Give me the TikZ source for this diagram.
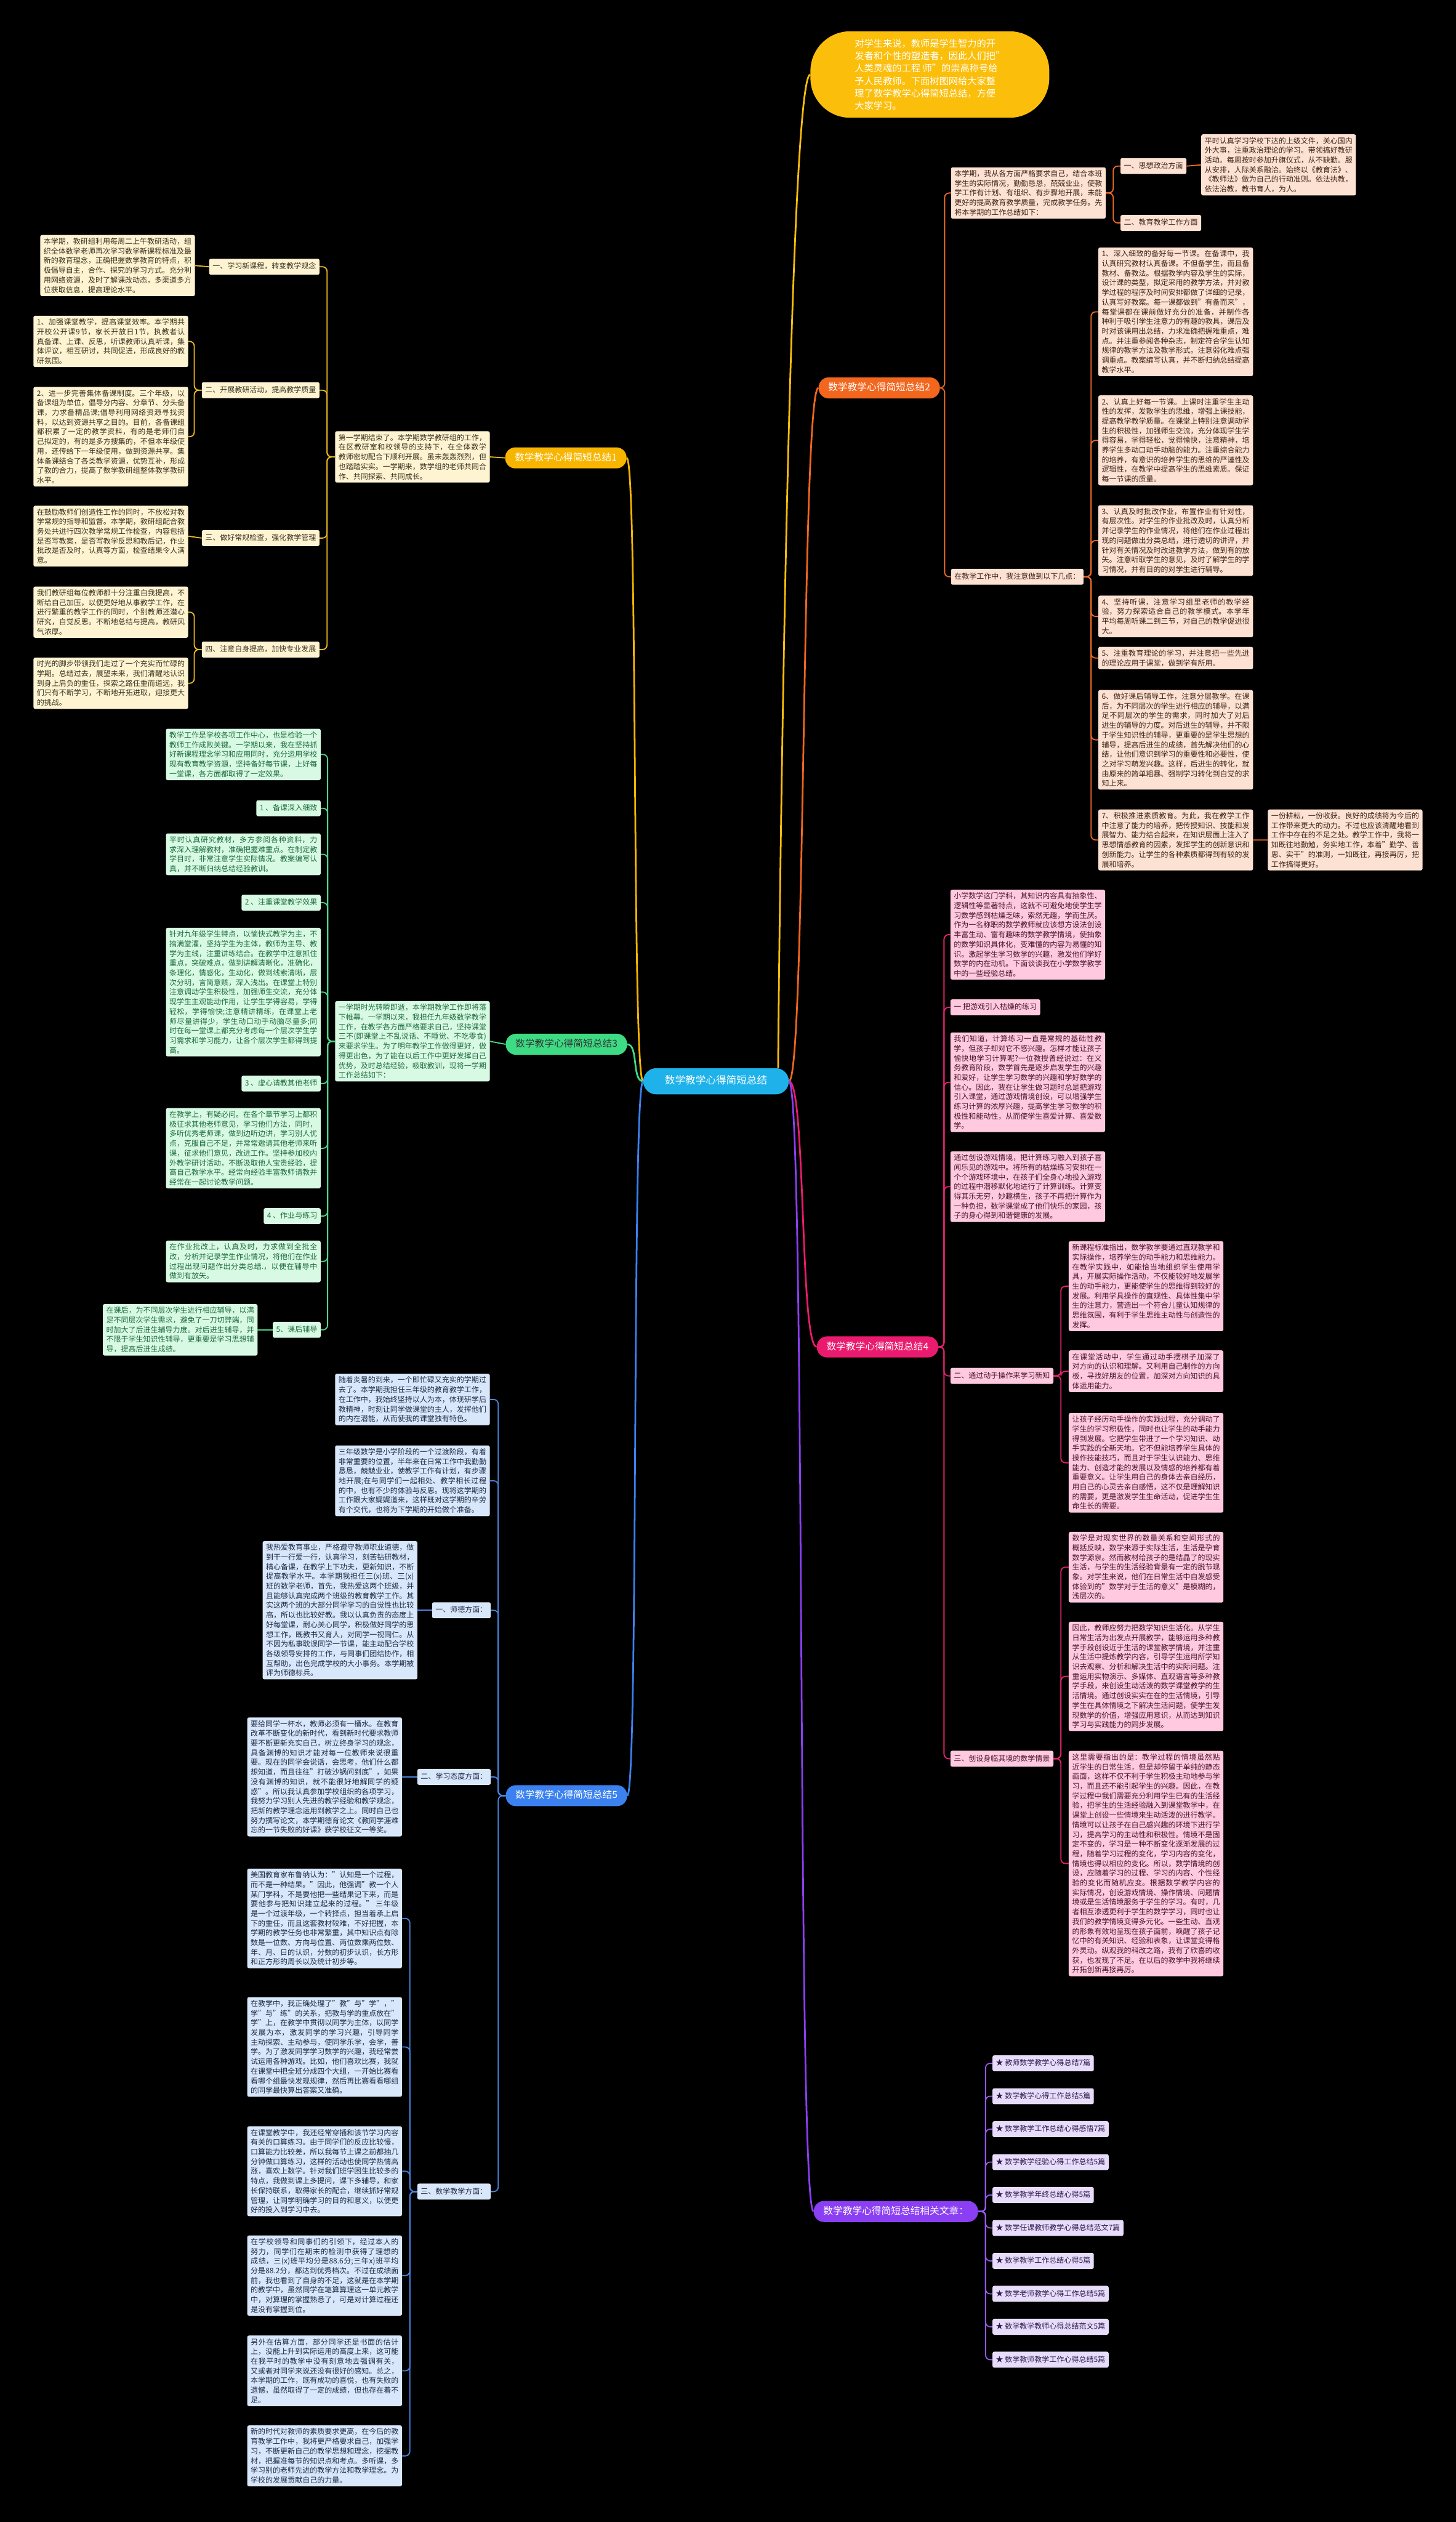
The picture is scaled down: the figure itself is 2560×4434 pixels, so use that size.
\documentclass[tikz,border=0pt]{standalone}
\usepackage{fontspec}
\setmainfont{Noto Sans CJK SC}
\XeTeXlinebreaklocale "zh"
\XeTeXlinebreakskip=0pt plus 1pt
\usetikzlibrary{positioning}

\definecolor{bgcol}{HTML}{000000}
\definecolor{hubcol}{HTML}{1FB2EA}
\definecolor{tipcol}{HTML}{FBBE0B}
\definecolor{yelcol}{HTML}{F8B500}
\definecolor{ycard}{HTML}{FFF4D2}
\definecolor{yline}{HTML}{E9B825}
\definecolor{ytext}{HTML}{3A3220}
\definecolor{orcol}{HTML}{F2661E}
\definecolor{ocard}{HTML}{FDE2D3}
\definecolor{oline}{HTML}{EE6A24}
\definecolor{otext}{HTML}{3E2418}
\definecolor{grcol}{HTML}{3DDC84}
\definecolor{gcard}{HTML}{D8FAE4}
\definecolor{gline}{HTML}{4CD68A}
\definecolor{gtext}{HTML}{1D6B3C}
\definecolor{pkcol}{HTML}{EA1B6E}
\definecolor{pcard}{HTML}{FFCADF}
\definecolor{pline}{HTML}{E3226F}
\definecolor{ptext}{HTML}{4A1428}
\definecolor{blcol}{HTML}{3B82F0}
\definecolor{bcard}{HTML}{D9E7FB}
\definecolor{bline}{HTML}{4A85DF}
\definecolor{btext}{HTML}{1F2B47}
\definecolor{pucol}{HTML}{8B3FF2}
\definecolor{ucard}{HTML}{E7DDFA}
\definecolor{uline}{HTML}{9658EE}
\definecolor{utext}{HTML}{2E1B4F}

\newcommand\cardfont{\fontsize{13pt}{17pt}\selectfont}
\newcommand\pillfont{\fontsize{17pt}{20pt}\selectfont}
\newcommand\hubfont{\fontsize{18pt}{22pt}\selectfont}
\newcommand\tipfont{\fontsize{16.5pt}{22pt}\selectfont}

\tikzset{
  card/.style  = {rounded corners=3pt, inner xsep=6pt, inner ysep=5pt, font=\cardfont, align=justify, text width=#1},
  card/.default = 260pt,
  tag/.style   = {rounded corners=3pt, inner xsep=6pt, inner ysep=7pt, font=\cardfont, text height=11pt, text depth=3pt},
  pill/.style  = {rounded corners=18pt, inner xsep=17pt, inner ysep=0pt, minimum height=37pt, font=\pillfont, text height=13pt, text depth=3pt},
  hub/.style   = {pill, fill=hubcol, text=white, font=\hubfont, minimum height=46pt, inner xsep=38pt, rounded corners=23pt},
  tip/.style   = {fill=tipcol, text=white, font=\tipfont, align=left, rounded corners=70pt, inner xsep=78pt, minimum height=152pt},
  main/.style  = {line width=3pt},
  link/.style  = {line width=2pt, rounded corners=8pt},
  ycard/.style = {card=#1, fill=ycard, text=ytext}, ycard/.default=260pt,
  ocard/.style = {card=#1, fill=ocard, text=otext}, ocard/.default=260pt,
  gcard/.style = {card=#1, fill=gcard, text=gtext}, gcard/.default=260pt,
  pcard/.style = {card=#1, fill=pcard, text=ptext}, pcard/.default=260pt,
  bcard/.style = {card=#1, fill=bcard, text=btext}, bcard/.default=260pt,
  ytag/.style  = {tag, fill=ycard, text=ytext},
  otag/.style  = {tag, fill=ocard, text=otext},
  gtag/.style  = {tag, fill=gcard, text=gtext},
  ptag/.style  = {tag, fill=pcard, text=ptext},
  btag/.style  = {tag, fill=bcard, text=btext},
  utag/.style  = {tag, fill=ucard, text=utext},
  ylink/.style = {link, draw=yline},
  olink/.style = {link, draw=oline},
  glink/.style = {link, draw=gline},
  plink/.style = {link, draw=pline},
  blink/.style = {link, draw=bline},
  ulink/.style = {link, draw=uline}
}

\begin{document}
\begin{tikzpicture}[x=1pt,y=-1pt]
\fill[bgcol] (0,0) rectangle (2560,4434);
\useasboundingbox (0,0) rectangle (2560,4434);

% centre and intro bubble
\node[hub] (hub) at (1259,1901) {数学教学心得简短总结};
\node[tip] (tip) at (1635,131) {对学生来说，教师是学生智力的开\\发者和个性的塑造者，因此人们把"\\人类灵魂的工程 师"的崇高称号给\\予人民教师。下面树图网给大家整\\理了数学教学心得简短总结，方便\\大家学习。};

% main branches
\node[pill, fill=yelcol, text=white] (sum1) at (995,805) {数学教学心得简短总结1};
\node[pill, fill=orcol, text=white] (sum2) at (1546,682) {数学教学心得简短总结2};
\node[pill, fill=grcol, text=black!80] (sum3) at (996,1836) {数学教学心得简短总结3};
\node[pill, fill=pkcol, text=white] (sum4) at (1543,2368) {数学教学心得简短总结4};
\node[pill, fill=blcol, text=white] (sum5) at (996,3157) {数学教学心得简短总结5};
\node[pill, fill=pucol, text=white, anchor=east] (sum6) at (1720,3888) {数学教学心得简短总结相关文章：};

\draw[main, draw=tipcol] (hub.12) .. controls +(0,-40) and +(-40,0) .. (tip.west);
\draw[main, draw=orcol] (hub.east) .. controls +(30,0) and +(-30,0) .. (sum2.west);
\draw[main, draw=pkcol] (hub.east) .. controls +(30,0) and +(-30,0) .. (sum4.west);
\draw[main, draw=pucol] (hub.east) .. controls +(30,0) and +(-30,0) .. (sum6.west);
\draw[main, draw=yelcol] (hub.west) .. controls +(-20,0) and +(20,0) .. (sum1.east);
\draw[main, draw=grcol] (hub.west) .. controls +(-20,0) and +(20,0) .. (sum3.east);
\draw[main, draw=blcol] (hub.west) .. controls +(-20,0) and +(20,0) .. (sum5.east);

% branch 1
\node[ycard, anchor=north west] (lead1) at (589,758) {第一学期结束了。本学期数学教研组的工作，在区教研室和校领导的支持下，在全体数学教师密切配合下顺利开展。虽未轰轰烈烈，但也踏踏实实。一学期来，数学组的老师共同合作、共同探索、共同成长。};
\node[ytag, anchor=east] (h11) at (562,469) {一、学习新课程，转变教学观念};
\node[ytag, anchor=east] (h12) at (562,686) {二、开展教研活动，提高教学质量};
\node[ytag, anchor=east] (h13) at (562,946) {三、做好常规检查，强化教学管理};
\node[ytag, anchor=east] (h14) at (562,1142) {四、注意自身提高，加快专业发展};
\node[ycard, anchor=north east] (t11) at (343,413) {本学期，教研组利用每周二上午教研活动，组织全体数学老师再次学习数学新课程标准及最新的教育理念，正确把握数学教育的特点，积极倡导自主，合作、探究的学习方式。充分利用网络资源，及时了解课改动态，多渠道多方位获取信息，提高理论水平。};
\node[ycard, anchor=north east] (t12a) at (331,555) {1、加强课堂教学，提高课堂效率。本学期共开校公开课9节，家长开放日1节，执教者认真备课、上课、反思，听课教师认真听课，集体评议，相互研讨，共同促进，形成良好的教研氛围。};
\node[ycard, anchor=north east] (t12b) at (331,680) {2、进一步完善集体备课制度。三个年级，以备课组为单位，倡导分内容、分章节、分头备课，力求备精品课;倡导利用网络资源寻找资料，以达到资源共享之目的。目前，各备课组都积累了一定的教学资料，有的是老师们自己拟定的，有的是多方搜集的，不但本年级使用，还传给下一年级使用，做到资源共享。集体备课结合了各类教学资源，优势互补，形成了教的合力，提高了数学教研组整体教学教研水平。};
\node[ycard, anchor=north east] (t13) at (331,889) {在鼓励教师们创造性工作的同时，不放松对教学常规的指导和监督。本学期，教研组配合教务处共进行四次教学常规工作检查，内容包括是否写教案，是否写教学反思和教后记，作业批改是否及时，认真等方面，检查结果令人满意。};
\node[ycard, anchor=north east] (t14a) at (331,1031) {我们教研组每位教师都十分注重自我提高，不断给自己加压，以便更好地从事教学工作，在进行繁重的教学工作的同时，个别教师还潜心研究，自觉反思。不断地总结与提高，教研风气浓厚。};
\node[ycard, anchor=north east] (t14b) at (331,1156) {时光的脚步带领我们走过了一个充实而忙碌的学期。总结过去，展望未来，我们清醒地认识到身上肩负的重任，探索之路任重而道远，我们只有不断学习，不断地开拓进取，迎接更大的挑战。};
\draw[ylink] (sum1.west) -- (lead1.east);
\draw[ylink] (lead1.west) -- ++(-14,0) |- (h11.east);
\draw[ylink] (lead1.west) -- ++(-14,0) |- (h12.east);
\draw[ylink] (lead1.west) -- ++(-14,0) |- (h13.east);
\draw[ylink] (lead1.west) -- ++(-14,0) |- (h14.east);
\draw[ylink] (h11.west) -- (t11.east);
\draw[ylink] (h12.west) -- ++(-13,0) |- (t12a.east);
\draw[ylink] (h12.west) -- ++(-13,0) |- (t12b.east);
\draw[ylink] (h13.west) -- (t13.east);
\draw[ylink] (h14.west) -- ++(-13,0) |- (t14a.east);
\draw[ylink] (h14.west) -- ++(-13,0) |- (t14b.east);

% branch 2
\node[ocard, anchor=north west] (lead2) at (1672,294) {本学期，我从各方面严格要求自己，结合本班学生的实际情况，勤勤恳恳，兢兢业业，使教学工作有计划、有组织、有步骤地开展，未能更好的提高教育教学质量，完成教学任务。先将本学期的工作总结如下：};
\node[otag, anchor=west] (h21) at (1970,292) {一、思想政治方面};
\node[ocard, anchor=north west] (t21) at (2112,236) {平时认真学习学校下达的上级文件，关心国内外大事，注重政治理论的学习。带领搞好教研活动。每周按时参加升旗仪式，从不缺勤。服从安排，人际关系融洽。始终以《教育法》、《教师法》做为自己的行动准则。依法执教，依法治教，教书育人，为人。};
\node[otag, anchor=west] (h22) at (1970,392) {二、教育教学工作方面};
\node[otag, anchor=west] (pts) at (1672,1014) {在教学工作中，我注意做到以下几点：};
\node[ocard, anchor=north west] (i1) at (1931,435) {1、深入细致的备好每一节课。在备课中，我认真研究教材认真备课。不但备学生，而且备教材、备教法。根据教学内容及学生的实际，设计课的类型，拟定采用的教学方法，并对教学过程的程序及时间安排都做了详细的记录，认真写好教案。每一课都做到"有备而来"，每堂课都在课前做好充分的准备，并制作各种利于吸引学生注意力的有趣的教具，课后及时对该课用出总结，力求准确把握难重点，难点。并注重参阅各种杂志，制定符合学生认知规律的教学方法及教学形式。注意弱化难点强调重点。教案编写认真，并不断归纳总结提高教学水平。};
\node[ocard, anchor=north west] (i2) at (1931,695) {2、认真上好每一节课。上课时注重学生主动性的发挥，发散学生的思维，增强上课技能，提高教学教学质量。在课堂上特别注意调动学生的积极性，加强师生交流，充分体现学生学得容易，学得轻松，觉得愉快，注意精神，培养学生多动口动手动脑的能力。注重综合能力的培养，有意识的培养学生的思维的严谨性及逻辑性，在教学中提高学生的思维素质。保证每一节课的质量。};
\node[ocard, anchor=north west] (i3) at (1931,888) {3、认真及时批改作业，布置作业有针对性，有层次性。对学生的作业批改及时，认真分析并记录学生的作业情况，将他们在作业过程出现的问题做出分类总结，进行透切的讲评，并针对有关情况及时改进教学方法，做到有的放矢。注意听取学生的意见，及时了解学生的学习情况，并有目的的对学生进行辅导。};
\node[ocard, anchor=north west] (i4) at (1931,1047) {4、坚持听课，注意学习组里老师的教学经验，努力探索适合自己的教学模式。本学年平均每周听课二到三节，对自己的教学促进很大。};
\node[ocard, anchor=north west] (i5) at (1931,1137) {5、注重教育理论的学习，并注意把一些先进的理论应用于课堂，做到学有所用。};
\node[ocard, anchor=north west] (i6) at (1931,1213) {6、做好课后辅导工作，注意分层教学。在课后，为不同层次的学生进行相应的辅导，以满足不同层次的学生的需求，同时加大了对后进生的辅导的力度。对后进生的辅导，并不限于学生知识性的辅导，更重要的是学生思想的辅导，提高后进生的成绩，首先解决他们的心结，让他们意识到学习的重要性和必要性，使之对学习萌发兴趣。这样，后进生的转化，就由原来的简单粗暴、强制学习转化到自觉的求知上来。};
\node[ocard, anchor=north west] (i7) at (1931,1423) {7、积极推进素质教育。为此，我在教学工作中注意了能力的培养，把传授知识、技能和发展智力、能力结合起来，在知识层面上注入了思想情感教育的因素，发挥学生的创新意识和创新能力。让学生的各种素质都得到有较的发展和培养。};
\node[ocard, anchor=north west] (i7end) at (2229,1423) {一份耕耘，一份收获。良好的成绩将为今后的工作带来更大的动力。不过也应该清醒地看到工作中存在的不足之处。教学工作中，我将一如既往地勤勉，务实地工作，本着"勤学、善思、实干"的准则，一如既往，再接再厉，把工作搞得更好。};
\draw[olink] (sum2.east) -- ++(8,0) |- (lead2.west);
\draw[olink] (sum2.east) -- ++(8,0) |- (pts.west);
\draw[olink] (lead2.east) -- ++(13,0) |- (h21.west);
\draw[olink] (lead2.east) -- ++(13,0) |- (h22.west);
\draw[olink] (h21.east) -- (t21.west);
\draw[olink] (pts.east) -- ++(13,0) |- (i1.west);
\draw[olink] (pts.east) -- ++(13,0) |- (i2.west);
\draw[olink] (pts.east) -- ++(13,0) |- (i3.west);
\draw[olink] (pts.east) -- ++(13,0) |- (i4.west);
\draw[olink] (pts.east) -- ++(13,0) |- (i5.west);
\draw[olink] (pts.east) -- ++(13,0) |- (i6.west);
\draw[olink] (pts.east) -- ++(13,0) |- (i7.west);
\draw[olink] (i7.east) -- (i7end.west);

% branch 3
\node[gcard, anchor=north west] (lead3) at (589,1760) {一学期时光转瞬即逝，本学期教学工作即将落下帷幕。一学期以来，我担任九年级数学教学工作，在教学各方面严格要求自己，坚持课堂三不(即课堂上不乱说话、不睡觉、不吃零食)来要求学生。为了明年教学工作做得更好，做得更出色，为了能在以后工作中更好发挥自己优势，及时总结经验，吸取教训，现将一学期工作总结如下：};
\node[gcard, anchor=north east] (g0) at (564,1281) {教学工作是学校各项工作中心，也是检验一个教师工作成败关键。一学期以来，我在坚持抓好新课程理念学习和应用同时，充分运用学校现有教育教学资源，坚持备好每节课，上好每一堂课，各方面都取得了一定效果。};
\node[gtag, anchor=east] (n31) at (564,1421) {1 、备课深入细致};
\node[gcard, anchor=north east] (g1) at (564,1465) {平时认真研究教材，多方参阅各种资料，力求深入理解教材，准确把握难重点。在制定教学目时，非常注意学生实际情况。教案编写认真，并不断归纳总结经验教训。};
\node[gtag, anchor=east] (n32) at (564,1587) {2 、注重课堂教学效果};
\node[gcard, anchor=north east] (g2) at (564,1631) {针对九年级学生特点，以愉快式教学为主，不搞满堂灌，坚持学生为主体，教师为主导、教学为主线，注重讲练结合。在教学中注意抓住重点，突破难点，做到讲解清晰化，准确化，条理化，情感化，生动化，做到线索清晰，层次分明，言简意赅，深入浅出。在课堂上特别注意调动学生积极性，加强师生交流，充分体现学生主观能动作用，让学生学得容易，学得轻松，学得愉快;注意精讲精练，在课堂上老师尽量讲得少，学生动口动手动脑尽量多;同时在每一堂课上都充分考虑每一个层次学生学习需求和学习能力，让各个层次学生都得到提高。};
\node[gtag, anchor=east] (n33) at (564,1905) {3 、虚心请教其他老师};
\node[gcard, anchor=north east] (g3) at (564,1948) {在教学上，有疑必问。在各个章节学习上都积极征求其他老师意见，学习他们方法，同时，多听优秀老师课，做到边听边讲，学习别人优点，克服自己不足，并常常邀请其他老师来听课，征求他们意见，改进工作。坚持参加校内外教学研讨活动，不断汲取他人宝贵经验，提高自己教学水平。经常向经验丰富教师请教并经常在一起讨论教学问题。};
\node[gtag, anchor=east] (n34) at (564,2138) {4 、作业与练习};
\node[gcard, anchor=north east] (g4) at (564,2181) {在作业批改上，认真及时，力求做到全批全改，分析并记录学生作业情况，将他们在作业过程出现问题作出分类总结.，以便在辅导中做到有放矢。};
\node[gtag, anchor=east] (n35) at (564,2338) {5、课后辅导};
\node[gcard, anchor=east] (g5) at (453,2338) {在课后，为不同层次学生进行相应辅导，以满足不同层次学生需求，避免了一刀切弊端，同时加大了后进生辅导力度。对后进生辅导，并不限于学生知识性辅导，更重要是学习思想辅导，提高后进生成绩。};
\draw[glink] (sum3.west) -- (lead3.east);
\draw[glink] (lead3.west) -- ++(-13,0) |- (g0.east);
\draw[glink] (lead3.west) -- ++(-13,0) |- (n31.east);
\draw[glink] (lead3.west) -- ++(-13,0) |- (g1.east);
\draw[glink] (lead3.west) -- ++(-13,0) |- (n32.east);
\draw[glink] (lead3.west) -- ++(-13,0) |- (g2.east);
\draw[glink] (lead3.west) -- ++(-13,0) |- (n33.east);
\draw[glink] (lead3.west) -- ++(-13,0) |- (g3.east);
\draw[glink] (lead3.west) -- ++(-13,0) |- (n34.east);
\draw[glink] (lead3.west) -- ++(-13,0) |- (g4.east);
\draw[glink] (lead3.west) -- ++(-13,0) |- (n35.east);
\draw[glink] (n35.west) -- (g5.east);

% branch 4
\node[pcard, anchor=north west] (lead4) at (1671,1564) {小学数学这门学科，其知识内容具有抽象性、逻辑性等显著特点，这就不可避免地使学生学习数学感到枯燥乏味，索然无趣，学而生厌。作为一名称职的数学教师就应该想方设法创设丰富生动、富有趣味的数学教学情境，使抽象的数学知识具体化，变难懂的内容为易懂的知识。激起学生学习数学的兴趣，激发他们学好数学的内在动机。下面谈谈我在小学数学教学中的一些经验总结。};
\node[ptag, anchor=west] (h41) at (1671,1771) {一 把游戏引入枯燥的练习};
\node[pcard, anchor=north west] (p1) at (1671,1815) {我们知道，计算练习一直是常规的基础性教学，但孩子却对它不感兴趣。怎样才能让孩子愉快地学习计算呢?一位教授曾经说过：在义务教育阶段，数学首先是逐步启发学生的兴趣和爱好，让学生学习数学的兴趣和学好数学的信心。因此，我在让学生做习题时总是把游戏引入课堂，通过游戏情境创设，可以增强学生练习计算的浓厚兴趣，提高学生学习数学的积极性和能动性，从而使学生喜爱计算、喜爱数学。};
\node[pcard, anchor=north west] (p2) at (1671,2024) {通过创设游戏情境，把计算练习融入到孩子喜闻乐见的游戏中。将所有的枯燥练习安排在一个个游戏环境中，在孩子们全身心地投入游戏的过程中潜移默化地进行了计算训练。计算变得其乐无穷，妙趣横生，孩子不再把计算作为一种负担，数学课堂成了他们快乐的家园，孩子的身心得到和谐健康的发展。};
\node[ptag, anchor=west] (h42) at (1671,2419) {二、通过动手操作来学习新知};
\node[pcard, anchor=north west] (p3) at (1879,2182) {新课程标准指出，数学教学要通过直观教学和实际操作，培养学生的动手能力和思维能力。在教学实践中，如能恰当地组织学生使用学具，开展实际操作活动，不仅能较好地发展学生的动手能力，更能使学生的思维得到较好的发展。利用学具操作的直观性、具体性集中学生的注意力，营造出一个符合儿童认知规律的思维氛围，有利于学生思维主动性与创造性的发挥。};
\node[pcard, anchor=north west] (p4) at (1879,2374) {在课堂活动中，学生通过动手摆棋子加深了对方向的认识和理解。又利用自己制作的方向板，寻找好朋友的位置，加深对方向知识的具体运用能力。};
\node[pcard, anchor=north west] (p5) at (1879,2484) {让孩子经历动手操作的实践过程，充分调动了学生的学习积极性，同时也让学生的动手能力得到发展。它把学生带进了一个学习知识、动手实践的全新天地。它不但能培养学生具体的操作技能技巧，而且对于学生认识能力、思维能力、创造才能的发展以及情感的培养都有着重要意义。让学生用自己的身体去亲自经历，用自己的心灵去亲自感悟，这不仅是理解知识的需要，更是激发学生生命活动，促进学生生命生长的需要。};
\node[ptag, anchor=west] (h43) at (1671,3092) {三、创设身临其境的数学情景};
\node[pcard, anchor=north west] (p6) at (1879,2693) {数学是对现实世界的数量关系和空间形式的概括反映，数学来源于实际生活，生活是孕育数学源泉。然而教材给孩子的是结晶了的现实生活，与学生的生活经验背景有一定的脱节现象。对学生来说，他们在日常生活中自发感受体验到的"数学对于生活的意义"是模糊的，浅层次的。};
\node[pcard, anchor=north west] (p7) at (1879,2851) {因此，教师应努力把数学知识生活化。从学生日常生活为出发点开展教学，能够运用多种教学手段创设近于生活的课堂教学情境，并注重从生活中提炼教学内容，引导学生运用所学知识去观察、分析和解决生活中的实际问题。注重运用实物演示、多媒体、直观语言等多种教学手段，来创设生动活泼的数学课堂教学的生活情境。通过创设实实在在的生活情境，引导学生在具体情境之下解决生活问题，使学生发现数学的价值，增强应用意识，从而达到知识学习与实践能力的同步发展。};
\node[pcard, anchor=north west] (p8) at (1879,3078) {这里需要指出的是：教学过程的情境虽然贴近学生的日常生活，但是却停留于单纯的静态画面，这样不仅不利于学生积极主动地参与学习，而且还不能引起学生的兴趣。因此，在教学过程中我们需要充分利用学生已有的生活经验，把学生的生活经验融入到课堂教学中，在课堂上创设一些情境来生动活泼的进行教学。情境可以让孩子在自己感兴趣的环境下进行学习，提高学习的主动性和积极性。情境不是固定不变的，学习是一种不断变化逐渐发展的过程，随着学习过程的变化，学习内容的变化，情境也得以相应的变化。所以，数学情境的创设，应随着学习的过程、学习的内容、个性经验的变化而随机应变。根据数学教学内容的实际情况，创设游戏情境、操作情境、问题情境或是生活情境服务于学生的学习。有时，几者相互渗透更利于学生的数学学习，同时也让我们的教学情境变得多元化。一些生动、直观的形象有效地呈现在孩子面前，唤醒了孩子记忆中的有关知识、经验和表象，让课堂变得格外灵动。纵观我的科改之路，我有了欣喜的收获，也发现了不足。在以后的教学中我将继续开拓创新再接再厉。};
\draw[plink] (sum4.east) -- ++(10,0) |- (lead4.west);
\draw[plink] (sum4.east) -- ++(10,0) |- (h41.west);
\draw[plink] (sum4.east) -- ++(10,0) |- (p1.west);
\draw[plink] (sum4.east) -- ++(10,0) |- (p2.west);
\draw[plink] (sum4.east) -- ++(10,0) |- (h42.west);
\draw[plink] (sum4.east) -- ++(10,0) |- (h43.west);
\draw[plink] (h42.east) -- ++(13,0) |- (p3.west);
\draw[plink] (h42.east) -- ++(13,0) |- (p4.west);
\draw[plink] (h42.east) -- ++(13,0) |- (p5.west);
\draw[plink] (h43.east) -- ++(13,0) |- (p6.west);
\draw[plink] (h43.east) -- ++(13,0) |- (p7.west);
\draw[plink] (h43.east) -- ++(13,0) |- (p8.west);

% branch 5
\node[bcard, anchor=north west] (lead5a) at (589,2415) {随着炎暑的到来，一个即忙碌又充实的学期过去了。本学期我担任三年级的教育教学工作，在工作中，我始终坚持以人为本，体现研学后教精神，时刻让同学做课堂的主人，发挥他们的内在潜能，从而使我的课堂独有特色。};
\node[bcard, anchor=north west] (lead5b) at (589,2541) {三年级数学是小学阶段的一个过渡阶段，有着非常重要的位置，半年来在日常工作中我勤勤恳恳，兢兢业业，使教学工作有计划，有步骤地开展;在与同学们一起相处、教学相长过程的中，也有不少的体验与反思。现将这学期的工作跟大家娓娓道来，这样既对这学期的辛劳有个交代，也将为下学期的开始做个准备。};
\node[btag, anchor=east] (h51) at (863,2831) {一、师德方面：};
\node[btag, anchor=east] (h52) at (863,3124) {二、学习态度方面：};
\node[btag, anchor=east] (h53) at (863,3853) {三、数学教学方面：};
\node[bcard, anchor=east] (s1) at (734,2831) {我热爱教育事业，严格遵守教师职业道德，做到干一行爱一行，认真学习，刻苦钻研教材，精心备课，在教学上下功夫，更新知识，不断提高教学水平。本学期我担任三(x)班、三(x)班的数学老师，首先，我热爱这两个班级，并且能够认真完成两个班级的教育教学工作。其实这两个班的大部分同学学习的自觉性也比较高，所以也比较好教。我以认真负责的态度上好每堂课，耐心关心同学，积极做好同学的思想工作，既教书又育人，对同学一视同仁。从不因为私事耽误同学一节课，能主动配合学校各级领导安排的工作，与同事们团结协作，相互帮助，出色完成学校的大小事务。本学期被评为师德标兵。};
\node[bcard, anchor=east] (s2) at (707,3124) {要给同学一杯水，教师必须有一桶水。在教育改革不断变化的新时代，看到新时代要求教师要不断更新充实自己，树立终身学习的观念，具备渊博的知识才能对每一位教师来说很重要。现在的同学会说话，会思考，他们什么都想知道，而且往往"打破沙锅问到底"，如果没有渊博的知识，就不能很好地解同学的疑惑"。所以我认真参加学校组织的各项学习，我努力学习别人先进的教学经验和教学观念，把新的教学理念运用到教学之上。同时自己也努力撰写论文，本学期德育论文《教同学涯难忘的一节失败的好课》获学校征文一等奖。};
\node[bcard, anchor=north east] (s3) at (707,3285) {美国教育家布鲁纳认为："认知是一个过程，而不是一种结果。"因此，他强调"教一个人某门学科，不是要他把一些结果记下来，而是要他参与把知识建立起来的过程。" 三年级是一个过渡年级，一个转择点，担当着承上启下的重任，而且这套教材较难，不好把握，本学期的教学任务也非常繁重，其中知识点有除数是一位数、方向与位置、两位数乘两位数、年、月、日的认识，分数的初步认识，长方形和正方形的周长以及统计初步等。};
\node[bcard, anchor=north east] (s4) at (707,3511) {在教学中，我正确处理了"教"与"学"，"学"与"练"的关系，把教与学的重点放在"学"上，在教学中贯彻以同学为主体，以同学发展为本，激发同学的学习兴趣，引导同学主动探索、主动参与，使同学乐学，会学，善学。为了激发同学学习数学的兴趣，我经常尝试运用各种游戏。比如，他们喜欢比赛，我就在课堂中把全班分成四个大组，一开始比赛看看哪个组最快发现规律，然后再比赛看看哪组的同学最快算出答案又准确。};
\node[bcard, anchor=north east] (s5) at (707,3738) {在课堂教学中，我还经常穿插和该节学习内容有关的口算练习。由于同学们的反应比较慢，口算能力比较差，所以我每节上课之前都抽几分钟做口算练习，这样的活动也使同学热情高涨，喜欢上数学。针对我们班学困生比较多的特点，我做到课上多提问，课下多辅导，和家长保持联系，取得家长的配合，继续抓好常规管理，让同学明确学习的目的和意义，以便更好的投入到学习中去。};
\node[bcard, anchor=north east] (s6) at (707,3930) {在学校领导和同事们的引领下，经过本人的努力，同学们在期末的检测中获得了理想的成绩，三(x)班平均分是88.6分;三年x)班平均分是88.2分，都达到优秀档次。不过在成绩面前，我也看到了自身的不足，这就是在本学期的教学中，虽然同学在笔算算理这一单元教学中，对算理的掌握熟悉了，可是对计算过程还是没有掌握到位。};
\node[bcard, anchor=north east] (s7) at (707,4106) {另外在估算方面，部分同学还是书面的估计上，没能上升到实际运用的高度上来，这可能在我平时的教学中没有刻意地去强调有关，又或者对同学来说还没有很好的感知。总之，本学期的工作，既有成功的喜悦，也有失败的遗憾，虽然取得了一定的成绩，但也存在着不足。};
\node[bcard, anchor=north east] (s8) at (707,4264) {新的时代对教师的素质要求更高，在今后的教育教学工作中，我将更严格要求自己，加强学习，不断更新自己的教学思想和理念，挖掘教材，把握准每节的知识点和考点。多听课，多学习别的老师先进的教学方法和教学理念。为学校的发展贡献自己的力量。};
\draw[blink] (sum5.west) -- ++(-13,0) |- (lead5a.east);
\draw[blink] (sum5.west) -- ++(-13,0) |- (lead5b.east);
\draw[blink] (sum5.west) -- ++(-13,0) |- (h51.east);
\draw[blink] (sum5.west) -- ++(-13,0) |- (h52.east);
\draw[blink] (sum5.west) -- ++(-13,0) |- (h53.east);
\draw[blink] (h51.west) -- (s1.east);
\draw[blink] (h52.west) -- (s2.east);
\draw[blink] (h53.west) -- ++(-13,0) |- (s3.east);
\draw[blink] (h53.west) -- ++(-13,0) |- (s4.east);
\draw[blink] (h53.west) -- ++(-13,0) |- (s5.east);
\draw[blink] (h53.west) -- ++(-13,0) |- (s6.east);
\draw[blink] (h53.west) -- ++(-13,0) |- (s7.east);
\draw[blink] (h53.west) -- ++(-13,0) |- (s8.east);

% related articles
\foreach \title [count=\i] in {教师数学教学心得总结7篇, 数学教学心得工作总结5篇, 数学教学工作总结心得感悟7篇, 数学教学经验心得工作总结5篇, 数学教学年终总结心得5篇, 数学任课教师教学心得总结范文7篇, 数学教学工作总结心得5篇, 数学老师教学心得工作总结5篇, 数学教学教师心得总结范文5篇, 数学教师教学工作心得总结5篇} {
  \node[utag, anchor=west] (rel\i) at (1745,{3569.6+57.9*\i}) {★ \title};
  \draw[ulink] (sum6.east) -- ++(13,0) |- (rel\i.west);
}
\end{tikzpicture}
\end{document}
